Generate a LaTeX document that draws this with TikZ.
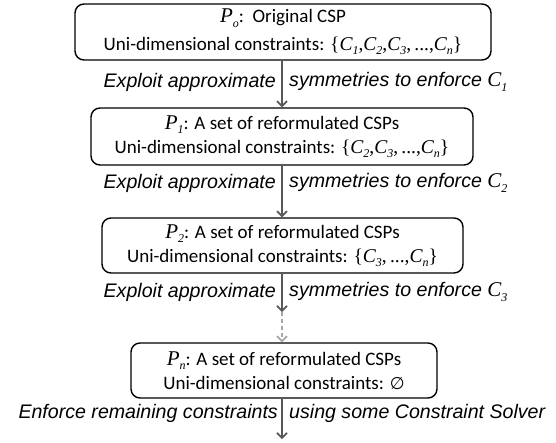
\documentclass[tikz,border=0pt]{standalone}
\usepackage{fontspec}
\setmainfont{Carlito}
\newfontfamily\lblfont{Liberation Sans}
\newfontfamily\serfont{Liberation Serif}
\newfontfamily\symfont{DejaVu Sans}
\usetikzlibrary{arrows.meta}
\newcommand\mi[1]{{\serfont\itshape #1}}
\newcommand\msub[1]{\raisebox{-0.45ex}{\fontsize{12}{12}\selectfont\serfont\itshape #1}}
\newcommand\mC[1]{\mi{C}\msub{#1}}
\newcommand\mP[1]{{\fontsize{21}{21}\selectfont\mi{P}\msub{#1}}}
\newcommand\mset[1]{{\fontsize{19.5}{19.5}\selectfont\serfont\{#1\}}}
\definecolor{arrgray}{HTML}{595959}
\definecolor{dashgray}{HTML}{A6A6A6}
\begin{document}
\begin{tikzpicture}[x=1pt,y=-1pt,
  box/.style={draw=black, line width=1.4pt, rounded corners=9pt, align=center,
    inner sep=0pt, font=\fontsize{19}{24}\selectfont},
  lbl/.style={inner sep=0pt, font=\lblfont\itshape\fontsize{19.6}{22}\selectfont},
  arr/.style={draw=arrgray, line width=1.7pt, -{Straight Barb[length=5pt,width=10pt]}},
  darr/.style={draw=dashgray, line width=1.7pt, dash pattern=on 4pt off 3pt, -{Straight Barb[length=5pt,width=10pt]}}
]
\useasboundingbox (0,0) rectangle (556,442);
\node[box, minimum width=416pt, minimum height=56pt, font=\fontsize{19}{28}\selectfont] (b0) at (283,32)
  {\mP{o}:\ \ Original CSP\\
   Uni-dimensional constraints: \mset{\mC{1},\mC{2},\mC{3},\,...,\mC{n}}};
\node[box, minimum width=382pt, minimum height=57pt] (b1) at (282,136.5)
  {\mP{1}: A set of reformulated CSPs\\
   Uni-dimensional constraints: \mset{\mC{2},\mC{3},\,...,\mC{n}}};
\node[box, minimum width=361pt, minimum height=55pt] (b2) at (282.5,245.5)
  {\mP{2}: A set of reformulated CSPs\\
   Uni-dimensional constraints: \mset{\mC{3},\,...,\mC{n}}};
\node[box, minimum width=306pt, minimum height=55pt] (bn) at (284,370.5)
  {\mP{n}: A set of reformulated CSPs\\
   Uni-dimensional constraints: {\symfont\fontsize{17}{17}\selectfont ∅}};
\coordinate (c3) at (282,312);
\coordinate (c4) at (282,439);
\draw[arr] (b0.south -| c3) -- (b1.north -| c3);
\draw[arr] (b1.south -| c3) -- (b2.north -| c3);
\draw[arr] (b2.south -| c3) -- (c3);
\draw[darr] (c3) -- (bn.north -| c3);
\draw[arr] (bn.south -| c3) -- (c4);
\node[lbl, anchor=east] (l1a) at (276,82) {Exploit approximate};
\node[lbl, anchor=west] (l1b) at (289,82) {symmetries to enforce {\fontsize{21}{21}\selectfont\mC{1}}};
\node[lbl, anchor=east] (l2a) at (276,183) {Exploit approximate};
\node[lbl, anchor=west] (l2b) at (289,183) {symmetries to enforce {\fontsize{21}{21}\selectfont\mC{2}}};
\node[lbl, anchor=east] (l3a) at (276,292) {Exploit approximate};
\node[lbl, anchor=west] (l3b) at (289,292) {symmetries to enforce {\fontsize{21}{21}\selectfont\mC{3}}};
\node[lbl, anchor=east] (l4a) at (278,413) {Enforce remaining constraints};
\node[lbl, anchor=west] (l4b) at (289,413) {using some Constraint Solver};
\end{tikzpicture}
\end{document}
